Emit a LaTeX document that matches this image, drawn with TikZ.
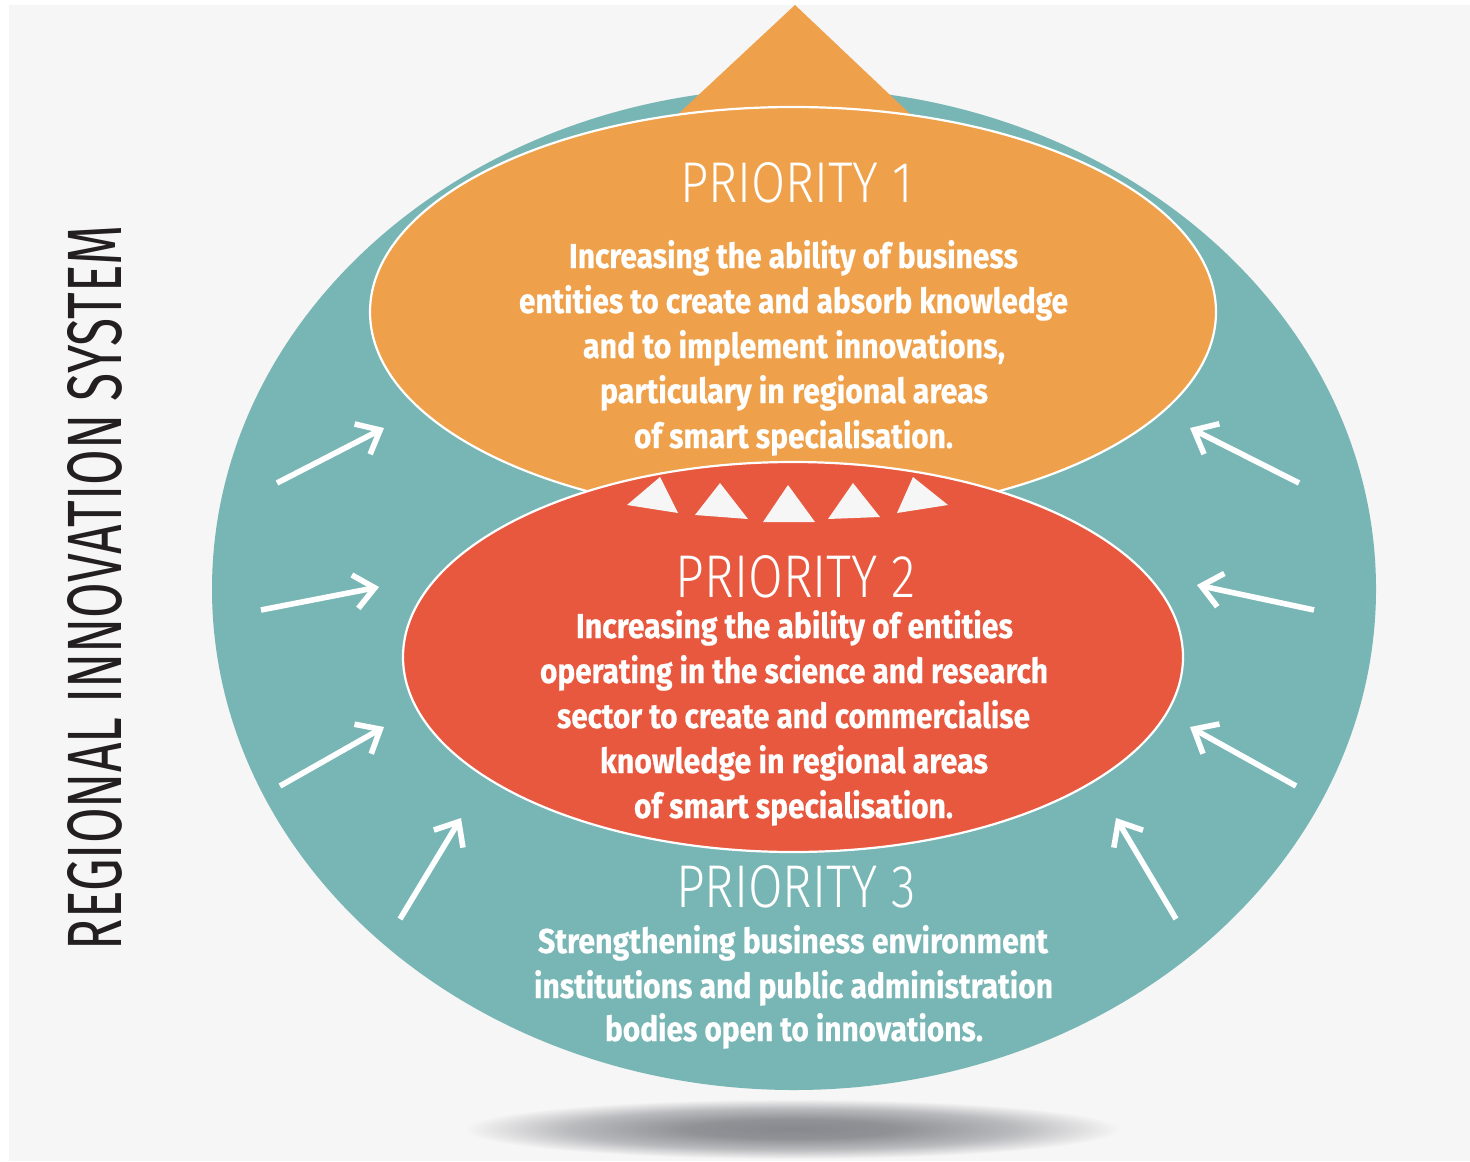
\documentclass[tikz,border=0pt]{standalone}
\usepackage{fontspec}
\setmainfont{Fira Sans}
\newfontfamily\titlefont{Fira Sans Light}
\newfontfamily\bodyfont[FakeBold=0.6]{Fira Sans Bold}
\usetikzlibrary{arrows.meta}
\definecolor{bgc}{HTML}{F6F6F6}
\definecolor{tealc}{HTML}{78B6B5}
\definecolor{orangec}{HTML}{EFA04A}
\definecolor{redc}{HTML}{E8583F}
\definecolor{shadowc}{HTML}{88898E}
\definecolor{darktext}{HTML}{231F20}
\pgfdeclareradialshading{softshadow}{\pgfpoint{0bp}{0bp}}{%
  color(0bp)=(shadowc); color(8bp)=(shadowc!92!bgc); color(17bp)=(shadowc!55!bgc);
  color(25bp)=(bgc); color(50bp)=(bgc)}
\newcommand{\bline}[2]{\resizebox{#1pt}{14pt}{\bodyfont #2}}
\newcommand{\tline}[3]{\resizebox{#1pt}{#2pt}{\titlefont #3}}
\begin{document}
\begin{tikzpicture}[x=0.5pt,y=-0.5pt,
  txt/.style={inner sep=0pt, outer sep=0pt, text=white, anchor=base},
  arr/.style={draw=white, line width=2.8pt, -{Straight Barb[length=10pt,width=17pt]}},
  outline/.style={draw=white, line width=1.1pt},
  smalltri/.style={fill=bgc}]
\useasboundingbox (0,0) rectangle (1470,1161);
\fill[white] (0,0) rectangle (1470,1161);
\fill[bgc] (9,5) rectangle (1470,1161);
% shadow
\shade[shading=softshadow] (792,1129) ellipse [x radius=164pt, y radius=15pt];
% outer system
\fill[tealc] (794,589) ellipse [x radius=291pt, y radius=250.5pt];
% top triangle
\fill[orangec] (795,5) -- (661,130) -- (927,130) -- cycle;
% priority 1
\filldraw[fill=orangec, outline] (793,312) ellipse [x radius=211.5pt, y radius=102.5pt];
% priority 2
\filldraw[fill=redc, outline] (793,657) ellipse [x radius=195pt, y radius=97.5pt];
% small triangles
\fill[smalltri] (627,505) -- (660,477) -- (678,513) -- cycle;
\fill[smalltri] (695,515) -- (720,483) -- (748,519) -- cycle;
\fill[smalltri] (763,522) -- (788,485) -- (815,522) -- cycle;
\fill[smalltri] (828,519) -- (853,483) -- (880,517) -- cycle;
\fill[smalltri] (897,513) -- (913,477) -- (948,505) -- cycle;
% arrows
\coordinate (l1s) at (277,483); \coordinate (l1e) at (384,428);
\coordinate (l2s) at (261,610); \coordinate (l2e) at (379,587);
\coordinate (l3s) at (280,786); \coordinate (l3e) at (384,727);
\coordinate (l4s) at (400,919); \coordinate (l4e) at (461,818);
\coordinate (r1s) at (1299,483); \coordinate (r1e) at (1190,428);
\coordinate (r2s) at (1314,610); \coordinate (r2e) at (1197,585);
\coordinate (r3s) at (1296,786); \coordinate (r3e) at (1190,727);
\coordinate (r4s) at (1176,919); \coordinate (r4e) at (1116,818);
\foreach \a in {l1,l2,l3,l4,r1,r2,r3,r4} \draw[arr] (\a s) -- (\a e);
% side label
\node[inner sep=0pt, rotate=90, text=darktext] (ris) at (95,587.5)
  {\resizebox{362.5pt}{27pt}{REGIONAL INNOVATION SYSTEM}};
% titles
\node[txt] (t1) at (796.5,202) {\tline{116.5}{20}{PRIORITY 1}};
\node[txt] (t2) at (796,597) {\tline{120}{21}{PRIORITY 2}};
\node[txt] (t3) at (796,907) {\tline{120}{21}{PRIORITY 3}};
% priority 1 text
\node[txt] (p1a) at (793.5,268) {\bline{224.5}{Increasing the ability of business}};
\node[txt] (p1b) at (793.5,313) {\bline{274.5}{entities to create and absorb knowledge}};
\node[txt] (p1c) at (794,358) {\bline{211}{and to implement innovations,}};
\node[txt] (p1d) at (794,403) {\bline{194}{particulary in regional areas}};
\node[txt] (p1e) at (793.5,448) {\bline{159.5}{of smart specialisation.}};
% priority 2 text
\node[txt] (p2a) at (794.5,638) {\bline{218.5}{Increasing the ability of entities}};
\node[txt] (p2b) at (794,683) {\bline{254}{operating in the science and research}};
\node[txt] (p2c) at (793.5,728) {\bline{236.5}{sector to create and commercialise}};
\node[txt] (p2d) at (794,773) {\bline{194}{knowledge in regional areas}};
\node[txt] (p2e) at (793.5,818) {\bline{159.5}{of smart specialisation.}};
% priority 3 text
\node[txt] (p3a) at (793,953) {\bline{255}{Strengthening business environment}};
\node[txt] (p3b) at (793.5,998) {\bline{259.5}{institutions and public administration}};
\node[txt] (p3c) at (794,1041) {\bline{189}{bodies open to innovations.}};
\end{tikzpicture}
\end{document}
